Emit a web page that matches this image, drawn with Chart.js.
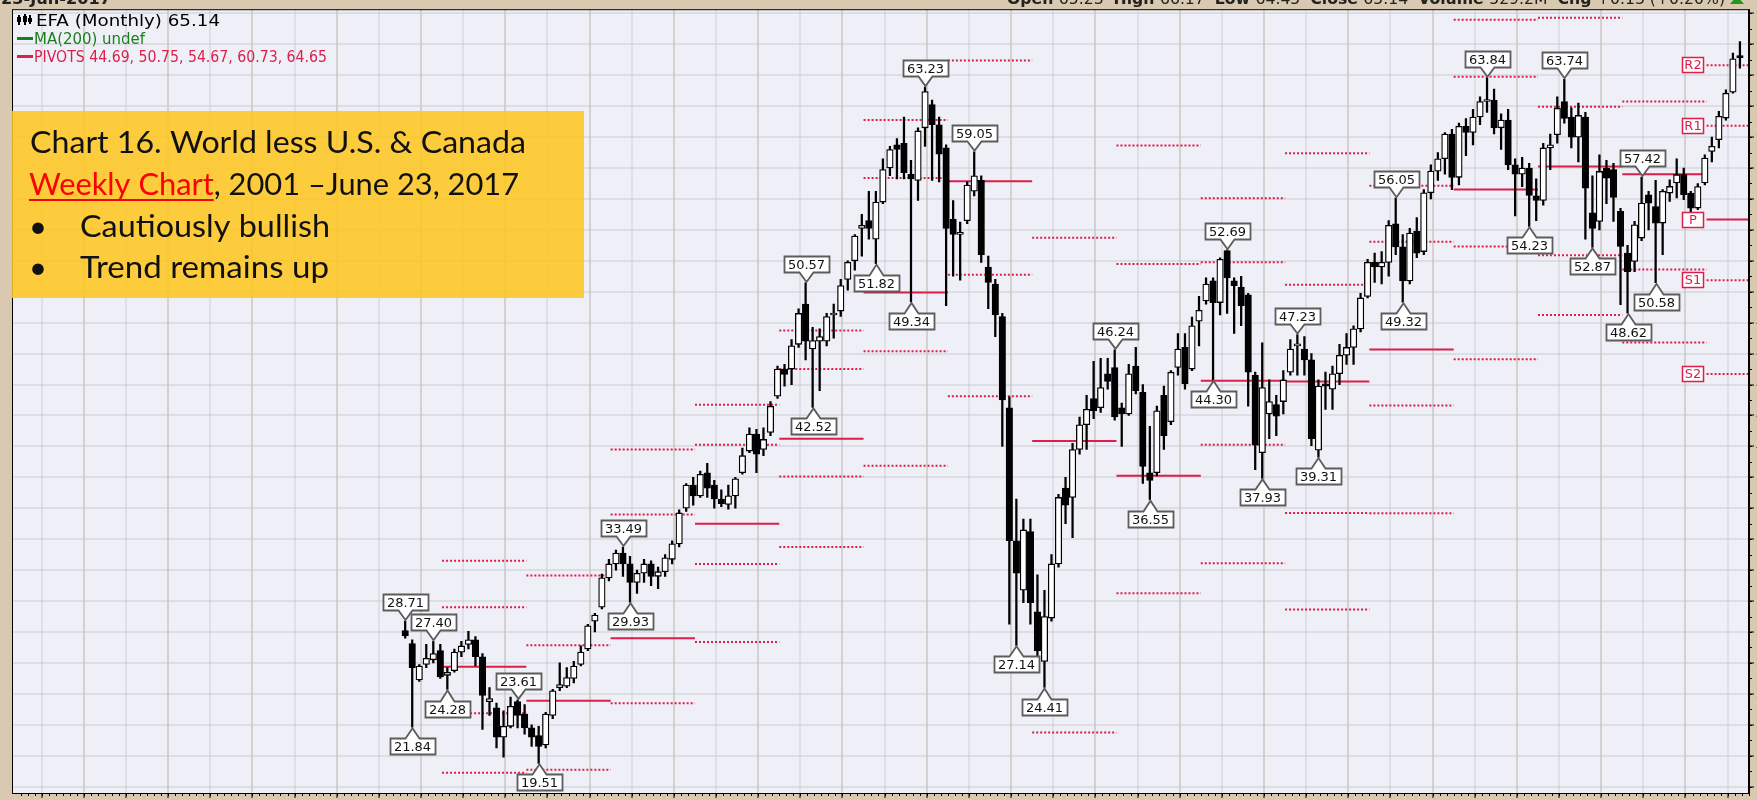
<!DOCTYPE html>
<html><head><meta charset="utf-8">
<script src="https://cdn.jsdelivr.net/npm/chart.js@4.4.0/dist/chart.umd.min.js"></script>
<style>
html,body{margin:0;padding:0;width:1757px;height:800px;overflow:hidden;background:#d8c9b0;}
#wrap{position:relative;width:1757px;height:815px;}
canvas{display:block;}
</style></head>
<body><div id="wrap"><canvas id="c" width="1757" height="815"></canvas></div>
<script>
// ---------------- DATA ----------------
const START_YEAR = 2001, START_MONTH = 8; // first monthly bar: Aug 2001
const opens = [
 28.1, 27.25, 24.9, 25.9, 26.2,
 26.8, 25.2, 25.5, 26.7, 27.2, 27.5, 26.4, 23.5, 23.1, 21.2, 21.9, 23.5,
 22.7, 21.8, 21.3, 20.7, 22.6, 24.4, 24.5, 25.0, 25.9, 26.9, 28.7, 29.6,
 31.5, 32.4, 33.1, 32.4, 31.2, 31.8, 32.4, 31.6, 31.9, 32.7, 33.7, 36.0,
 37.5, 36.8, 38.3, 37.5, 36.6, 36.25, 36.8, 38.3, 39.7, 40.8, 39.8, 40.9,
 43.25, 45.0, 45.0, 46.6, 49.2, 46.3, 46.8, 46.8, 48.5, 48.75, 50.8, 52.0,
 54.1, 54.6, 53.4, 55.8, 58.0, 59.5, 59.6, 57.6, 57.2, 60.6, 62.1, 60.8,
 59.3, 54.7, 53.7, 54.6, 56.5, 57.2, 51.6, 50.5, 48.4, 42.5, 33.9, 30.7,
 34.5, 29.3, 26.1, 28.9, 32.4, 37.3, 36.7, 39.8, 41.4, 43.1, 42.5, 44.7,
 45.1, 42.5, 42.1, 45.2, 43.5, 38.3, 38.3, 43.3, 41.6, 45.1, 46.4, 45.0,
 48.1, 49.4, 50.7, 49.3, 52.67, 50.7, 50.3, 49.8, 44.6, 39.6, 42.1, 42.7,
 42.9, 44.8, 46.5, 46.3, 45.6, 39.75, 44.05, 43.7, 44.7, 45.9, 46.4, 47.6,
 49.7, 51.9, 51.6, 51.9, 54.4, 52.9, 50.7, 53.9, 52.6, 56.4, 57.8, 58.6,
 60.2, 57.4, 60.7, 60.3, 61.3, 62.3, 62.4, 60.6, 61.1, 58.2, 57.6, 58.0,
 56.2, 55.9, 59.3, 60.15, 62.3, 61.3, 60.0, 61.3, 55.1, 54.55, 58.0, 57.9,
 55.2, 52.5, 51.96, 53.47, 56.27, 55.5, 54.44, 56.38, 57.03, 57.57, 56.38, 55.41,
 57.03, 59.07, 59.83, 61.23, 62.91, 65.23
];
const highs = [
 28.71, 27.5, 25.9, 27.2, 27.4,
 27.2, 25.7, 26.9, 27.4, 28.05, 27.7, 26.6, 24.4, 23.4, 22.9, 23.8, 23.61,
 23.3, 22.0, 21.9, 22.8, 24.3, 26.0, 25.7, 26.1, 27.1, 28.5, 29.2, 31.75,
 32.7, 33.3, 33.49, 32.9, 32.0, 32.7, 32.6, 32.2, 33.0, 33.9, 35.9, 37.6,
 38.0, 38.4, 38.9, 37.8, 37.2, 37.5, 38.0, 39.9, 41.2, 41.1, 41.2, 42.9,
 45.2, 45.3, 46.9, 48.9, 50.57, 47.7, 47.6, 48.6, 49.2, 50.8, 52.0, 53.7,
 55.0, 56.5, 56.5, 58.6, 59.4, 59.9, 61.3, 58.5, 60.6, 63.23, 62.4, 61.3,
 59.5, 55.9, 54.5, 57.1, 59.05, 57.5, 52.3, 50.8, 48.6, 43.2, 36.6, 35.3,
 35.3, 31.7, 30.7, 33.0, 36.9, 38.0, 40.2, 41.9, 43.3, 45.5, 45.7, 45.7,
 46.24, 42.8, 45.3, 46.4, 44.0, 41.3, 42.6, 43.9, 44.9, 47.3, 47.3, 48.36,
 49.7, 50.9, 50.9, 52.2, 52.69, 50.9, 51.0, 49.9, 44.8, 46.7, 44.3, 43.3,
 44.9, 46.9, 47.23, 47.1, 46.0, 44.3, 44.8, 45.2, 46.6, 47.3, 47.8, 49.9,
 52.1, 52.5, 52.6, 54.6, 56.05, 53.7, 54.1, 54.8, 56.6, 58.2, 59.0, 60.3,
 60.5, 60.9, 61.2, 61.8, 62.6, 63.84, 63.1, 61.5, 61.8, 58.6, 58.7, 58.3,
 57.3, 59.6, 60.2, 62.6, 63.74, 61.9, 62.2, 61.6, 57.5, 58.86, 58.5, 58.3,
 55.4, 53.0, 54.55, 57.42, 56.5, 57.2, 56.6, 57.24, 58.59, 58.0, 56.5, 57.0,
 58.86, 60.0, 61.66, 63.06, 65.43, 66.17
];
const lows = [
 27.6, 21.84, 24.8, 25.7, 26.0,
 25.0, 24.28, 25.4, 26.4, 26.9, 25.8, 21.7, 22.6, 20.5, 19.9, 21.8, 21.8,
 21.4, 20.6, 19.51, 20.5, 22.4, 24.2, 24.4, 24.7, 25.8, 26.8, 28.0, 29.5,
 31.3, 32.0, 31.6, 29.93, 30.5, 31.2, 31.0, 30.8, 31.6, 32.4, 33.5, 35.8,
 36.2, 36.7, 36.7, 36.0, 36.1, 35.95, 36.0, 38.2, 39.6, 38.3, 39.4, 40.7,
 43.1, 43.9, 44.0, 46.4, 45.6, 42.52, 43.6, 46.5, 47.0, 48.4, 50.1, 51.4,
 52.3, 53.4, 51.82, 55.7, 57.5, 57.3, 57.3, 49.34, 55.9, 59.4, 57.2, 57.1,
 49.1, 51.0, 50.75, 54.4, 56.2, 51.9, 48.9, 47.1, 40.0, 28.5, 27.14, 29.9,
 28.5, 26.0, 24.41, 28.7, 32.2, 35.0, 34.1, 39.5, 39.8, 41.8, 42.2, 43.7,
 41.7, 40.0, 42.0, 43.4, 37.6, 36.55, 38.1, 39.8, 41.4, 44.6, 43.7, 44.9,
 46.5, 49.2, 44.3, 48.5, 48.6, 47.3, 47.8, 42.6, 38.5, 37.93, 40.5, 40.7,
 42.1, 44.6, 44.6, 44.6, 40.05, 39.31, 42.4, 42.4, 44.0, 45.3, 45.3, 47.4,
 49.6, 50.6, 50.5, 51.0, 52.4, 49.32, 50.5, 52.2, 52.4, 56.0, 57.2, 57.6,
 56.6, 56.9, 58.8, 59.5, 60.8, 61.6, 60.2, 59.2, 57.9, 54.9, 56.8, 54.23,
 54.6, 55.6, 57.9, 59.6, 60.9, 59.3, 58.4, 53.4, 52.87, 54.0, 55.7, 54.55,
 49.16, 48.62, 51.3, 53.3, 54.0, 50.58, 52.4, 55.84, 56.06, 55.95, 55.1, 55.3,
 56.9, 58.4, 59.3, 61.1, 62.84, 64.45
];
const closes = [
 27.75, 25.7, 25.8, 26.3, 26.6,
 25.1, 25.4, 26.7, 27.1, 27.5, 26.4, 23.9, 23.7, 21.2, 21.9, 23.2, 22.6,
 21.8, 21.2, 20.6, 22.7, 24.2, 24.6, 25.05, 25.8, 26.7, 28.4, 29.1, 31.5,
 32.4, 33.1, 32.4, 31.2, 31.8, 32.4, 31.6, 31.9, 32.8, 33.7, 35.7, 37.5,
 36.8, 38.2, 37.3, 36.6, 36.3, 36.8, 37.9, 39.4, 40.8, 39.5, 40.45, 42.6,
 45.0, 44.65, 46.5, 48.6, 46.8, 46.85, 47.1, 48.4, 48.6, 50.4, 51.9, 53.6,
 54.3, 54.1, 55.8, 57.9, 59.2, 59.2, 57.7, 57.3, 60.4, 62.95, 60.8, 58.9,
 54.1, 53.7, 53.85, 56.9, 57.5, 52.4, 50.6, 48.5, 43.0, 33.9, 31.8, 34.6,
 29.9, 26.8, 29.0, 32.4, 36.7, 36.2, 39.8, 41.4, 42.4, 42.3, 43.8, 44.2,
 41.9, 42.1, 44.7, 43.6, 38.7, 37.8, 42.3, 40.7, 44.8, 46.3, 44.05, 47.8,
 48.8, 50.5, 49.3, 52.1, 50.9, 50.4, 49.1, 44.8, 40.1, 43.8, 42.9, 41.96,
 44.3, 46.3, 46.6, 45.6, 40.5, 43.9, 43.9, 44.7, 45.9, 46.4, 47.6, 49.6,
 51.9, 51.6, 51.9, 54.3, 52.9, 50.7, 53.8, 52.5, 56.4, 57.8, 58.6, 60.2,
 57.4, 60.7, 60.3, 61.3, 62.3, 62.4, 60.6, 61.1, 58.2, 57.6, 58.0, 56.23,
 55.9, 59.3, 59.5, 61.87, 61.2, 60.0, 61.4, 56.7, 54.1, 57.78, 57.35, 56.1,
 52.93, 51.3, 54.33, 55.73, 55.73, 54.44, 56.49, 56.81, 57.57, 56.27, 55.41, 56.8,
 58.64, 59.4, 61.34, 62.84, 65.06, 65.14
];

// yearly pivot levels (drawn one segment per calendar year)
const pivotYears = [2002,2003,2004,2005,2006,2007,2008,2009,2010,2011,2012,2013,2014,2015,2016,2017];
const pivotR2 = [32.6, 31.65, 39.8, 42.7, 47.5, 61.1, null, null, 59.45, 56.05, 58.95, 56.86, 67.59, 67.71, null, 64.65];
const pivotR1 = [29.6, 27.15, 35.6, 40.1, 45.0, 57.35, 64.95, 53.5, 51.8, 51.9, 50.45, 53.23, 63.9, 61.97, 62.3, 60.73];
const pivotP  = [25.75, 23.55, 27.6, 35.0, 40.5, 49.95, 57.15, 40.35, 38.1, 44.25, 44.2, 46.27, 56.61, 58.1, 57.59, 54.67];
const pivotS1 = [22.75, 19.1, 23.4, 32.4, 38.05, 46.15, 51.1, 21.5, 30.5, 40.1, 35.7, 42.64, 52.92, 52.36, 51.44, 50.75];
const pivotS2 = [18.9, null, null, 27.35, 33.5, 38.75, 43.25, null, null, 32.45, 29.45, 35.68, 45.63, 48.49, 46.72, 44.69];

// high / low call-out labels
const highLabelMonths = ['2001-08','2001-12','2002-12','2004-03','2006-05','2007-10','2008-05','2010-01','2011-05','2012-03','2013-05','2014-06','2015-05','2016-04'];
const highLabelValues = [28.71, 27.40, 23.61, 33.49, 50.57, 63.23, 59.05, 46.24, 52.69, 47.23, 56.05, 63.84, 63.74, 57.42];
const lowLabelMonths = ['2001-09','2002-02','2003-03','2004-04','2006-06','2007-03','2007-08','2008-11','2009-03','2010-06','2011-03','2011-10','2012-06','2013-06','2014-12','2015-09','2016-02','2016-06'];
const lowLabelValues = [21.84, 24.28, 19.51, 29.93, 42.52, 51.82, 49.34, 27.14, 24.41, 36.55, 44.30, 37.93, 39.31, 49.32, 54.23, 52.87, 48.62, 50.58];

const yearTickLabels = [1997,1998,1999,2000,2001,2002,2003,2004,2005,2006,2007,2008,2009,2010,2011,2012,2013,2014,2015,2016,2017];
const priceTicks = [18,20,22,24,26,28,30,32,34,36,38,40,42,44,46,48,50,52,54,56,58,60,62,64,66,68];
const pivotTagNames = ['R2','R1','P','S1','S2'];

// ---------------- HELPERS ----------------
const N = opens.length;
const monthIndex = []; // months since Jan 2002
for (let i = 0; i < N; i++) {
  monthIndex.push((START_YEAR - 2002) * 12 + (START_MONTH - 1) + i);
}
function mIdx(s) { const p = s.split('-').map(Number); return (p[0] - 2002) * 12 + (p[1] - 1); }
const YOFF = 0.25;
const XMIN = -60.97, XMAX = 186.29;
const YMIN = 17.59, YMAX = 68.27;
const CRIMSON = '#dc1e4a';

function pivotSeries(arr) {
  const d = [];
  pivotYears.forEach((yr, i) => {
    const a = (yr - 2002) * 12 + YOFF;
    const b = yr === 2017 ? XMAX + 1 : a + 12;
    if (arr[i] !== null) { d.push({x: a, y: arr[i]}); d.push({x: b, y: arr[i]}); }
    d.push({x: b + 0.001, y: null});
  });
  return d;
}

const xGridVals = [];
for (let j = -10; j <= 31; j++) xGridVals.push(j * 6 + YOFF);

const wickData = monthIndex.map((m, i) => ({x: m, y: [lows[i], highs[i]]}));
const bodyData = monthIndex.map((m, i) => ({x: m, y: [Math.min(opens[i], closes[i]), Math.max(opens[i], closes[i])]}));
const bodyColors = opens.map((o, i) => closes[i] >= o ? '#ffffff' : '#000000');

// ---------------- PLUGINS ----------------
const bgPlugin = {
  id: 'bg',
  beforeDraw(chart) {
    const {ctx, chartArea: a} = chart;
    ctx.save();
    ctx.fillStyle = '#d8c9b0';
    ctx.fillRect(0, 0, chart.width, chart.height);
    ctx.fillStyle = '#efeff7';
    ctx.fillRect(a.left, a.top, a.right - a.left, a.bottom - a.top);
    ctx.restore();
  }
};

function callout(ctx, cx, tipY, above, text) {
  ctx.font = '13px "DejaVu Sans"';
  const tw = ctx.measureText(text).width;
  const bw = Math.round(tw + 8), bh = 16, ph = 10, hw = 7;
  cx = Math.round(cx) + 0.5;
  const bx = Math.round(cx - bw / 2) + 0.5;
  ctx.beginPath();
  let ty;
  if (above) {
    const bb = Math.round(tipY - ph) + 0.5, bt = bb - bh;
    ctx.moveTo(bx, bt); ctx.lineTo(bx + bw, bt); ctx.lineTo(bx + bw, bb);
    ctx.lineTo(cx + hw, bb); ctx.lineTo(cx, tipY); ctx.lineTo(cx - hw, bb);
    ctx.lineTo(bx, bb); ctx.closePath();
    ty = bt + bh / 2 + 1;
  } else {
    const bt = Math.round(tipY + ph) + 0.5, bb = bt + bh;
    ctx.moveTo(bx, bt); ctx.lineTo(cx - hw, bt); ctx.lineTo(cx, tipY); ctx.lineTo(cx + hw, bt);
    ctx.lineTo(bx + bw, bt); ctx.lineTo(bx + bw, bb); ctx.lineTo(bx, bb); ctx.closePath();
    ty = bt + bh / 2 + 1;
  }
  ctx.fillStyle = '#ffffff'; ctx.fill();
  ctx.lineWidth = 1.8; ctx.strokeStyle = '#5c5c5c'; ctx.stroke();
  ctx.fillStyle = '#111'; ctx.textAlign = 'center'; ctx.textBaseline = 'middle';
  ctx.fillText(text, cx, ty);
}

const marksPlugin = {
  id: 'marks',
  afterDatasetsDraw(chart) {
    const {ctx, chartArea: a, scales: {x, y}} = chart;
    ctx.save();
    ctx.strokeStyle = '#000'; ctx.lineWidth = 1;
    ctx.strokeRect(a.left + 0.5, a.top + 0.5, a.right - a.left - 1, a.bottom - a.top);
    ctx.beginPath();
    for (let m = Math.ceil(XMIN); m <= XMAX; m++) {
      const px = Math.round(x.getPixelForValue(m + YOFF)) + 0.5;
      ctx.moveTo(px, a.bottom); ctx.lineTo(px, a.bottom + 3);
    }
    for (let v = 18; v <= 68; v++) {
      const py = Math.round(y.getPixelForValue(v)) + 0.5;
      ctx.moveTo(a.right, py); ctx.lineTo(a.right + 3, py);
    }
    ctx.stroke();
    highLabelMonths.forEach((s, i) => {
      callout(ctx, x.getPixelForValue(mIdx(s)), y.getPixelForValue(highLabelValues[i]) - 1, true, highLabelValues[i].toFixed(2));
    });
    lowLabelMonths.forEach((s, i) => {
      callout(ctx, x.getPixelForValue(mIdx(s)), y.getPixelForValue(lowLabelValues[i]) + 1, false, lowLabelValues[i].toFixed(2));
    });
    const lastI = pivotYears.length - 1;
    const tagVals = [pivotR2[lastI], pivotR1[lastI], pivotP[lastI], pivotS1[lastI], pivotS2[lastI]];
    const xr = Math.round(x.getPixelForValue((pivotYears[lastI] - 2002) * 12 + YOFF)) - 3;
    tagVals.forEach((v, k) => {
      const py = Math.round(y.getPixelForValue(v));
      const w = 22, h = 16;
      ctx.fillStyle = '#fff';
      ctx.fillRect(xr - w, py - h / 2, w, h);
      ctx.strokeStyle = CRIMSON; ctx.lineWidth = 1.5;
      ctx.strokeRect(xr - w + 0.5, py - h / 2 + 0.5, w - 1, h - 1);
      ctx.fillStyle = CRIMSON; ctx.font = '13px "DejaVu Sans"';
      ctx.textAlign = 'center'; ctx.textBaseline = 'middle';
      ctx.fillText(pivotTagNames[k], xr - w / 2, py + 1);
    });
    ctx.restore();
  }
};

function fitText(ctx, txt, x, y, targetW) {
  const w = ctx.measureText(txt).width;
  const s = targetW / w;
  ctx.save(); ctx.translate(x, y); ctx.scale(s, 1); ctx.fillText(txt, 0, 0); ctx.restore();
}

const overlayPlugin = {
  id: 'overlay',
  afterDraw(chart) {
    const ctx = chart.ctx;
    ctx.save();
    ctx.textAlign = 'left'; ctx.textBaseline = 'alphabetic';
    ctx.fillStyle = '#222';
    ctx.font = 'bold 15px "DejaVu Sans"';
    fitText(ctx, '23-Jun-2017', 1, 4, 110);
    const parts = [['Open ', true], ['65.23  ', false], ['High ', true], ['66.17  ', false], ['Low ', true], ['64.45  ', false],
                   ['Close ', true], ['65.14  ', false], ['Volume ', true], ['529.2M  ', false], ['Chg ', true], ['+0.13 (+0.20%)', false]];
    let tot = 0;
    parts.forEach(p => { ctx.font = (p[1] ? 'bold ' : '') + '15px "DejaVu Sans"'; tot += ctx.measureText(p[0]).width; });
    const sc = 718 / tot;
    let hx = 1007;
    parts.forEach(p => {
      ctx.font = (p[1] ? 'bold ' : '') + '15px "DejaVu Sans"';
      const w = ctx.measureText(p[0]).width;
      ctx.save(); ctx.translate(hx, 4); ctx.scale(sc, 1); ctx.fillText(p[0], 0, 0); ctx.restore();
      hx += w * sc;
    });
    ctx.fillStyle = '#1f9a1f';
    ctx.beginPath(); ctx.moveTo(1730, 4); ctx.lineTo(1744, 4); ctx.lineTo(1737, -4); ctx.closePath(); ctx.fill();

    ctx.fillStyle = '#000';
    ctx.fillRect(18, 15, 2, 10); ctx.fillRect(17, 17, 4, 5);
    ctx.fillRect(24, 14, 2, 11); ctx.fillRect(23, 16, 4, 6);
    ctx.fillRect(29, 15, 2, 9); ctx.fillRect(28, 18, 4, 4);
    ctx.font = '16px "DejaVu Sans"';
    ctx.fillStyle = '#000';
    fitText(ctx, 'EFA (Monthly) 65.14', 36, 26, 184);
    ctx.fillStyle = '#1a7f1a';
    ctx.fillRect(17, 37, 16, 3);
    fitText(ctx, 'MA(200) undef', 34, 43.5, 111);
    ctx.fillStyle = CRIMSON;
    ctx.fillRect(17, 55, 16, 3);
    fitText(ctx, 'PIVOTS 44.69, 50.75, 54.67, 60.73, 64.65', 34, 61.5, 293);

    ctx.fillStyle = 'rgba(255,198,30,0.86)';
    ctx.fillRect(12, 111, 572, 187);
    ctx.fillStyle = '#111';
    ctx.font = '31px Lato';
    fitText(ctx, 'Chart 16. World less U.S. & Canada', 30, 153, 496);
    const p1 = 'Weekly Chart', p2 = ', 2001 \u2013June 23, 2017';
    const w1 = ctx.measureText(p1).width, w2 = ctx.measureText(p2).width;
    const s2 = 490 / (w1 + w2);
    ctx.save(); ctx.translate(29, 195); ctx.scale(s2, 1);
    ctx.fillStyle = '#ff0000'; ctx.fillText(p1, 0, 0);
    ctx.fillRect(0, 4, w1, 2);
    ctx.fillStyle = '#111'; ctx.fillText(p2, w1, 0);
    ctx.restore();
    ctx.fillText('\u2022', 29, 237);
    fitText(ctx, 'Cautiously bullish', 80, 237, 250);
    ctx.fillText('\u2022', 29, 278);
    fitText(ctx, 'Trend remains up', 80, 278, 249);
    ctx.restore();
  }
};

// ---------------- CHART ----------------
const pivotStyle = (arr, solid) => ({
  type: 'line', data: pivotSeries(arr), borderColor: CRIMSON, borderWidth: 2,
  borderDash: solid ? [] : [2, 2], pointRadius: 0, spanGaps: false, tension: 0, order: 3
});

function xGridColor(c) {
  if (!c || !c.tick) return 'rgba(195,195,200,0.35)';
  const j = Math.round((c.tick.value - YOFF) / 6);
  return j % 2 === 0 ? 'rgba(175,165,145,0.40)' : 'rgba(195,195,200,0.35)';
}

new Chart(document.getElementById('c'), {
  type: 'bar',
  data: {
    datasets: [
      pivotStyle(pivotR2, false), pivotStyle(pivotR1, false), pivotStyle(pivotP, true),
      pivotStyle(pivotS1, false), pivotStyle(pivotS2, false),
      { type: 'bar', data: wickData, backgroundColor: '#000', borderWidth: 0, barThickness: 1.6, grouped: false, order: 2 },
      { type: 'bar', data: bodyData, backgroundColor: bodyColors, borderColor: '#000', borderWidth: 1.3,
        borderSkipped: false, barThickness: 6.5, grouped: false, minBarLength: 2, order: 1 }
    ]
  },
  options: {
    responsive: false, animation: false, devicePixelRatio: 1,
    layout: { padding: { left: 12, top: 9, right: 0, bottom: 0 } },
    plugins: { legend: { display: false }, tooltip: { enabled: false } },
    scales: {
      x: {
        type: 'linear', min: XMIN, max: XMAX, position: 'bottom', offset: false,
        afterBuildTicks: s => { s.ticks = xGridVals.map(v => ({ value: v })); },
        afterFit: s => { s.height = 22; },
        ticks: {
          autoSkip: false, maxRotation: 0, padding: 1, color: '#222',
          font: { size: 12, family: 'DejaVu Sans' },
          callback: (v) => {
            const j = Math.round((v - YOFF) / 6);
            return j % 2 === 0 ? String(yearTickLabels[(j + 10) / 2]) : '';
          }
        },
        grid: { color: xGridColor, lineWidth: 2, drawTicks: true, tickLength: 5, tickColor: '#000', tickWidth: 1 },
        border: { display: true, color: '#000', width: 1 }
      },
      y: {
        type: 'linear', position: 'right', min: YMIN, max: YMAX,
        afterBuildTicks: s => { s.ticks = priceTicks.map(v => ({ value: v })); },
        afterFit: s => { s.width = 8; },
        ticks: { color: '#000', padding: 2, font: { size: 12, family: 'DejaVu Sans' } },
        grid: { color: 'rgba(195,195,200,0.40)', lineWidth: 2, tickLength: 5, tickColor: '#000', tickWidth: 1 },
        border: { display: true, color: '#000', width: 1 }
      }
    }
  },
  plugins: [bgPlugin, marksPlugin, overlayPlugin]
});
</script>
</body></html>
